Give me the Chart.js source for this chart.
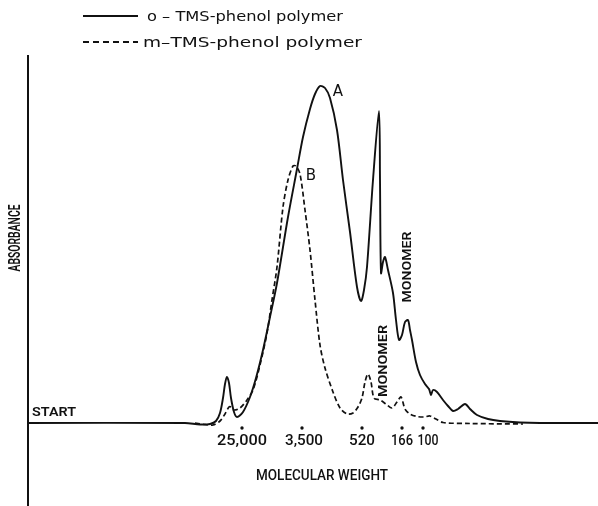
<!DOCTYPE html>
<html><head><meta charset="utf-8">
<script src="https://cdn.jsdelivr.net/npm/chart.js@4.4.1/dist/chart.umd.min.js"></script>
<style>html,body{margin:0;padding:0;background:#fff;}canvas{display:block;}</style>
</head><body>
<canvas id="c" width="598" height="506"></canvas>
<script>
// Elution position (arbitrary units, left = start) and absorbance (arbitrary units)
const oElution = [0,157,172,182,188,192,195,197,199,201,203,206,209,215,222,228,235,242,249,260,269,275,282,287,292,297,302,309,315,322,329,333,336,339,345,351,352,353,355,357,360,365,368,371,374,377,380,382,384,388,392,397,401,403,405,409,415,420,425,430,437,442,449,460,472,492,512,570];
const oAbsorbance = [0,0,-1.5,-1,2,10,25,39,46,40,25,11,6,11,26,45,73,106,140,206,254,286,314,329,337,335,325,293,243,191,136,122,133,156,243,312,243,150,161,166,153,130,103,83,88,101,103,93,83,61,48,39,34,28,33,31,23,17,12,14,19,14,8,4,2,0.5,0,0];
const mElution = [167,177,185,192,197,201,203,206,212,219,225,232,239,244,249,255,260,265,268,272,277,282,287,292,297,305,312,319,325,330,334,337,340,343,346,352,358,364,369,373,377,382,389,396,402,408,415,442,495];
const mAbsorbance = [0,-1.5,-2,2,9,16,16,13,15,23,33,58,90,123,156,216,243,257,257,249,213,173,123,78,55,31,15,9,10,16,25,41,49,41,25,23,19,15,21,26,14,9,6.5,6,7,4,0.5,-0.5,-1];
const mwTickPositions = [214, 274, 334, 374, 395];
const mwTickLabels = ['25,000', '3,500', '520', '166', '100'];
const seriesNames = ['o – TMS-phenol polymer', 'm–TMS-phenol polymer'];

const INK = '#111';

function toPoints(xs, ys) { return xs.map((x, i) => ({ x: x, y: ys[i] })); }

function drawFit(ctx, text, x, y, font, targetW, align, rot) {
  ctx.save();
  ctx.font = font;
  const w = ctx.measureText(text).width;
  const s = targetW ? targetW / w : 1;
  ctx.translate(x, y);
  if (rot) ctx.rotate(rot);
  ctx.scale(s, 1);
  ctx.textAlign = align || 'center';
  ctx.textBaseline = 'middle';
  ctx.fillStyle = INK;
  ctx.fillText(text, 0, 0);
  ctx.restore();
}

const LABEL = (sz, wt) => (wt || '500') + ' ' + sz + 'px Roboto';
const LEGEND = sz => 'normal ' + sz + 'px "DejaVu Sans"';
const tickLabelStyle = { widths: [50, 38, 26, 22, 21], shift: [0, 2, 0, 0, 5] };

const annotate = {
  id: 'annotate',
  afterDatasetsDraw(chart) {
    const ctx = chart.ctx;
    const xs = chart.scales.x, ys = chart.scales.y;
    const X = v => xs.getPixelForValue(v), Y = v => ys.getPixelForValue(v);
    // vertical axis
    ctx.save();
    ctx.strokeStyle = INK; ctx.lineWidth = 2;
    ctx.beginPath();
    ctx.moveTo(X(0), chart.chartArea.top);
    ctx.lineTo(X(0), chart.chartArea.bottom);
    ctx.stroke();
    ctx.restore();
    // molecular weight markers
    mwTickPositions.forEach((p, i) => {
      ctx.save();
      ctx.fillStyle = INK;
      ctx.beginPath();
      ctx.arc(X(p), Y(-5), 1.7, 0, Math.PI * 2);
      ctx.fill();
      ctx.restore();
      drawFit(ctx, mwTickLabels[i], X(p) + tickLabelStyle.shift[i], Y(-18), LABEL(15), tickLabelStyle.widths[i], 'center');
    });
    drawFit(ctx, 'MOLECULAR WEIGHT', X(294), Y(-53), LABEL(14), 132, 'center');
    drawFit(ctx, 'ABSORBANCE', X(-12), Y(185), LABEL(17, '600'), 67, 'center', -Math.PI / 2);
    drawFit(ctx, 'START', X(4), Y(10), LABEL(13, '600'), 44, 'left');
    drawFit(ctx, 'A', X(310), Y(331), 'normal 15px "DejaVu Sans"', null, 'center');
    drawFit(ctx, 'B', X(283), Y(247), 'normal 15px "DejaVu Sans"', null, 'center');
    drawFit(ctx, 'MONOMER', X(380), Y(156), LABEL(12, '600'), 71, 'center', -Math.PI / 2);
    drawFit(ctx, 'MONOMER', X(355.5), Y(62), LABEL(12, '600'), 72, 'center', -Math.PI / 2);
    // legend
    ctx.save();
    ctx.strokeStyle = INK;
    ctx.lineWidth = 1.8;
    ctx.beginPath(); ctx.moveTo(83, 16); ctx.lineTo(138, 16); ctx.stroke();
    ctx.setLineDash([6, 4]);
    ctx.beginPath(); ctx.moveTo(83, 42); ctx.lineTo(138, 42); ctx.stroke();
    ctx.restore();
    drawFit(ctx, seriesNames[0], 147, 17, LEGEND(14.5), 196, 'left');
    drawFit(ctx, seriesNames[1], 143, 43, LEGEND(14.5), 219, 'left');
  }
};

new Chart(document.getElementById('c'), {
  type: 'line',
  data: {
    datasets: [
      { label: seriesNames[0], data: toPoints(oElution, oAbsorbance), borderColor: INK, borderWidth: 1.9,
        pointRadius: 0, fill: false, tension: 0.3, order: 1 },
      { label: seriesNames[1], data: toPoints(mElution, mAbsorbance), borderColor: INK, borderWidth: 1.7,
        borderDash: [5, 3], pointRadius: 0, fill: false, tension: 0.3, order: 2 }
    ]
  },
  options: {
    responsive: false,
    animation: false,
    devicePixelRatio: 1,
    layout: { padding: { left: 28, right: 0, top: 55, bottom: 0 } },
    scales: {
      x: { type: 'linear', min: 0, max: 570, display: false },
      y: { type: 'linear', min: -83, max: 368, display: false }
    },
    plugins: { legend: { display: false }, tooltip: { enabled: false } }
  },
  plugins: [annotate]
});
</script>
</body></html>
